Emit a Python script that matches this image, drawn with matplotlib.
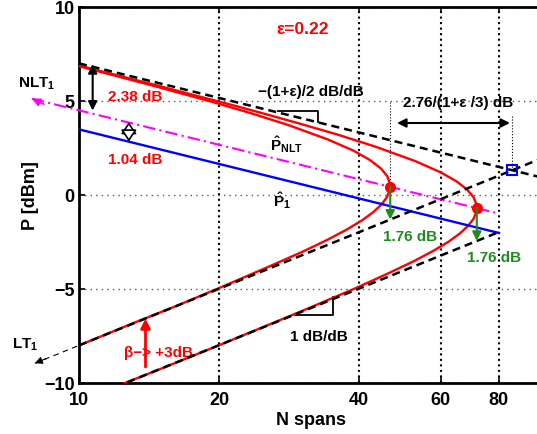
import numpy as np
import matplotlib
matplotlib.use('Agg')
import matplotlib.pyplot as plt
from matplotlib.ticker import NullLocator

plt.rcParams['font.family'] = ['Liberation Sans', 'DejaVu Sans']
plt.rcParams['font.weight'] = 'bold'
plt.rcParams['axes.labelweight'] = 'bold'
plt.rcParams['mathtext.fontset'] = 'custom'
plt.rcParams['mathtext.rm'] = 'Liberation Sans:bold'
plt.rcParams['mathtext.bf'] = 'Liberation Sans:bold'
plt.rcParams['mathtext.it'] = 'Liberation Sans:bold'

# red curves (N spans, P dBm)
n_inner = [10.0, 11.2, 14.3, 16.9, 19.3, 23.3, 28.2, 34.4, 39.0, 42.3, 44.6, 46.0,
           46.61, 46.67, 46.58, 45.9, 44.7, 42.9, 40.6, 37.7, 34.3, 30.3, 25.6,
           20.1, 16.2, 13.1, 10.0]
p_inner = [6.85, 6.53, 5.84, 5.35, 4.96, 4.37, 3.72, 2.94, 2.35, 1.85, 1.41, 1.01,
           0.62, 0.45, 0.25, -0.13, -0.51, -0.92, -1.35, -1.83, -2.37, -3.01, -3.81,
           -4.93, -5.90, -6.81, -8.00]
n_outer = [10.0, 11.3, 14.5, 17.2, 22.0, 26.0, 29.6, 35.8, 43.3, 52.9, 59.9, 64.9,
           68.4, 70.6, 71.6, 71.7, 71.55, 70.55, 68.6, 65.9, 62.3, 57.9, 52.7, 46.5,
           39.4, 30.9, 24.8, 20.2, 14.7, 13.1, 12.1]
p_outer = [6.89, 6.55, 5.87, 5.39, 4.70, 4.21, 3.82, 3.23, 2.58, 1.80, 1.21, 0.72,
           0.28, -0.13, -0.51, -0.68, -0.89, -1.27, -1.65, -2.05, -2.49, -2.96, -3.50,
           -4.14, -4.95, -6.06, -7.04, -7.95, -9.33, -9.82, -10.16]

# straight lines
nlt_n, nlt_p = [10, 100], [7.0, 0.9]          # NLT asymptote
lt_n, lt_p = [10, 100], [-8.0, 2.0]           # LT asymptote
lt2_n, lt2_p = [10, 80], [-11.0, -1.97]       # LT asymptote, beta +3dB lower
lt1_n, lt1_p = [8.04, 10], [-8.95, -8.0]      # thin extension to LT_1
pnlt_n, pnlt_p = [7.92, 80], [5.12, -0.99]    # P_NLT
p1_n, p1_p = [10, 80], [3.49, -2.02]          # P_1

opt_n = [46.7, 71.7]
opt_p = [0.45, -0.68]
opt_lt = [-1.31, -2.44]
cross_n, cross_p = 85.5, 1.32

green = '#1e8c1e'

fig = plt.figure(figsize=(5.37, 4.35), dpi=100)
ax = fig.add_axes([79/537, 51/435, 465/537, 376/435])
ax.set_xscale('log')

ax.plot(n_inner, p_inner, color='red', lw=1.7, zorder=3)
ax.plot(n_outer, p_outer, color='red', lw=1.7, zorder=3)
ax.plot(p1_n, p1_p, color='blue', lw=1.7, zorder=3)
ax.plot(pnlt_n, pnlt_p, color='magenta', lw=1.5, ls=(0, (6, 2, 1, 2)), zorder=3, clip_on=False)
dash = (0, (3.2, 2.0))
ax.plot(nlt_n, nlt_p, color='k', lw=1.8, ls=dash, zorder=4)
ax.plot(lt_n, lt_p, color='k', lw=1.8, ls=dash, zorder=4)
ax.plot(lt2_n, lt2_p, color='k', lw=1.8, ls=dash, zorder=4)
ax.plot(lt1_n, lt1_p, color='k', lw=0.8, ls=(0, (5, 4)), zorder=4, clip_on=False)

ax.annotate('', xy=(pnlt_n[0], pnlt_p[0]), xytext=(8.4, 4.83), annotation_clip=False,
            arrowprops=dict(arrowstyle='-|>', color='magenta', lw=1.2, mutation_scale=12,
                            shrinkA=0, shrinkB=0))
ax.annotate('', xy=(lt1_n[0], lt1_p[0]), xytext=(8.5, -8.7), annotation_clip=False,
            arrowprops=dict(arrowstyle='-|>', color='k', lw=0.8, mutation_scale=11,
                            shrinkA=0, shrinkB=0))

ax.plot(opt_n, opt_p, 'o', color='red', ms=7, zorder=5)
ax.plot([cross_n], [cross_p], 's', mfc='none', mec='blue', mew=1.5, ms=7, zorder=5)

for n, p0, p1 in zip(opt_n, opt_p, opt_lt):
    ax.annotate('', xy=(n, p1), xytext=(n, p0),
                arrowprops=dict(arrowstyle='-|>', color=green, lw=1.5, mutation_scale=13,
                                shrinkA=0, shrinkB=0), zorder=6)

# guide lines
ax.plot([opt_n[0], opt_n[0]], [4.95, opt_p[0]], color='k', lw=0.8, ls=':', zorder=2)
ax.plot([cross_n, cross_n], [4.2, cross_p], color='k', lw=0.8, ls=':', zorder=2)

ax.annotate('', xy=(10.7, 4.49), xytext=(10.7, 6.96),
            arrowprops=dict(arrowstyle='<|-|>', color='k', lw=1.5, mutation_scale=13,
                            shrinkA=0, shrinkB=0))
ax.annotate('', xy=(12.8, 2.84), xytext=(12.8, 3.88),
            arrowprops=dict(arrowstyle='<|-|>,head_length=0.45,head_width=0.3',
                            fc='white', ec='k', lw=1.2, mutation_scale=16,
                            shrinkA=0, shrinkB=0))
ax.annotate('', xy=(48.3, 3.83), xytext=(84.5, 3.83),
            arrowprops=dict(arrowstyle='<|-|>', color='k', lw=1.5, mutation_scale=13,
                            shrinkA=0, shrinkB=0))
ax.annotate('', xy=(13.9, -6.57), xytext=(13.9, -9.15),
            arrowprops=dict(arrowstyle='-|>', color='red', lw=2, mutation_scale=14,
                            shrinkA=0, shrinkB=0))

# slope triangles
ax.plot([26.8, 32.6, 32.6], [4.45, 4.45, 3.87], color='k', lw=1.3)
ax.plot([29.2, 35.2, 35.2], [-6.38, -6.38, -5.45], color='k', lw=1.3)

fs = 11
ax.text(30.3, 8.88, 'ε=0.22', color='red', fontsize=12.5, ha='center', va='center')
ax.text(13.2, 5.27, '2.38 dB', color='red', fontsize=fs, ha='center', va='center')
ax.text(13.2, 1.91, '1.04 dB', color='red', fontsize=fs, ha='center', va='center')
ax.text(31.5, 5.53, '\u2212(1+ε)/2 dB/dB', color='k', fontsize=fs, ha='center', va='center')
ax.text(65.4, 4.95, '2.76/(1+ε /3) dB', color='k', fontsize=fs, ha='center', va='center')
ax.text(25.8, 2.75, r'$\hat{\mathbf{P}}_{\mathbf{NLT}}$', color='k', fontsize=fs,
        ha='left', va='center')
ax.text(26.1, -0.25, r'$\hat{\mathbf{P}}_{\mathbf{1}}$', color='k', fontsize=fs,
        ha='left', va='center')
ax.text(51.5, -2.18, '1.76 dB', color=green, fontsize=fs, ha='center', va='center')
ax.text(78.2, -3.30, '1.76 dB', color=green, fontsize=fs, ha='center', va='center')
ax.text(32.8, -7.5, '1 dB/dB', color='k', fontsize=fs, ha='center', va='center')
ax.text(14.8, -8.35, 'β\u2212> +3dB', color='red', fontsize=fs, ha='center', va='center')
ax.text(7.39, 5.95, r'NLT$_{\mathbf{1}}$', color='k', fontsize=fs, ha='left', va='center',
        clip_on=False)
ax.text(7.18, -7.93, r'LT$_{\mathbf{1}}$', color='k', fontsize=fs, ha='left', va='center',
        clip_on=False)

ax.set_xlim(10, 100)
ax.set_ylim(-10, 10)
ax.set_xticks([10, 20, 40, 60, 80])
ax.set_xticklabels(['10', '20', '40', '60', '80'])
ax.xaxis.set_minor_locator(NullLocator())
ax.set_yticks([-10, -5, 0, 5, 10])
ax.tick_params(direction='in', top=True, right=True, length=4, width=1.2,
               labelsize=13, pad=3)
ax.tick_params(axis='x', pad=6)

ax.xaxis.grid(True, color='k', ls=':', lw=1.5)
ax.yaxis.grid(True, color='0.35', ls=(0, (1, 3)), lw=1.0)
ax.set_axisbelow(True)

for s in ax.spines.values():
    s.set_linewidth(2)

ax.set_xlabel('N spans', fontsize=13, fontweight='bold', labelpad=2)
ax.set_ylabel('P [dBm]', fontsize=13, fontweight='bold', labelpad=4)

fig.savefig('out.png', dpi=100)
